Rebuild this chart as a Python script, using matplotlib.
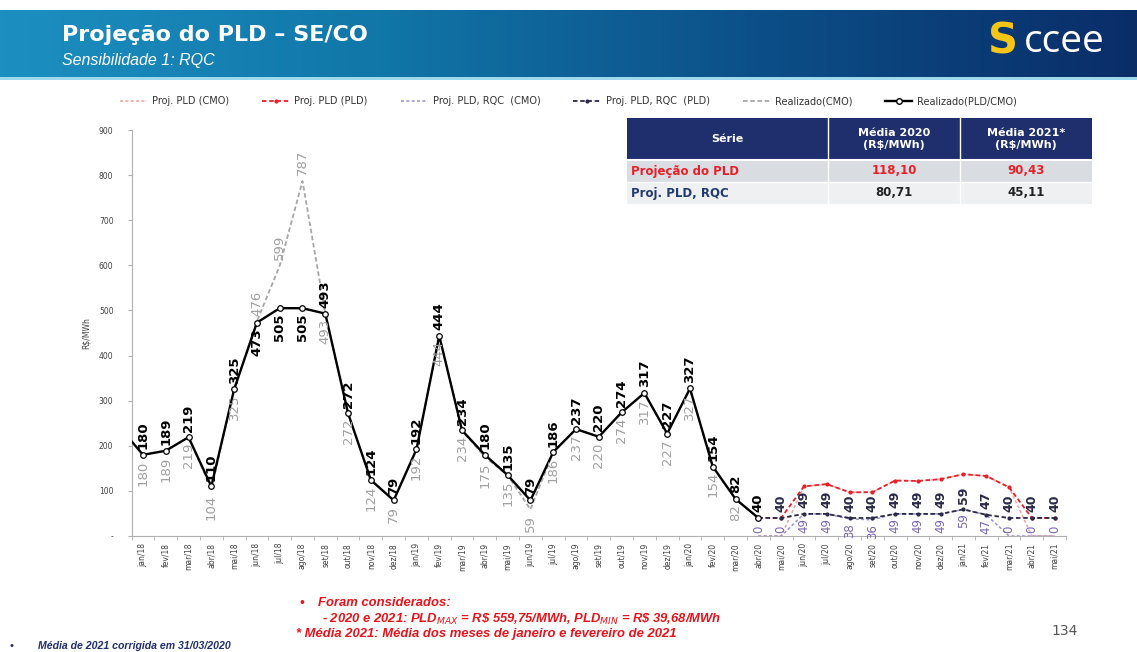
""" Projecao do PLD - SE/CO, sensibilidade 1: RQC
"""
import numpy as np
import matplotlib
matplotlib.use('Agg')
import matplotlib.pyplot as plt
from matplotlib.lines import Line2D
from matplotlib.patches import Rectangle
from matplotlib.colors import LinearSegmentedColormap

# --- data -----------------------------------------------------------------
meses = ['jan', 'fev', 'mar', 'abr', 'mai', 'jun',
         'jul', 'ago', 'set', 'out', 'nov', 'dez']
months = [m + '/' + a for a in ('18', '19', '20', '21') for m in meses][:41]

# realizado, jan/18 .. abr/20
realizado_pld = [180, 189, 219, 110, 325, 473, 505, 505, 493, 272, 124, 79,
                 192, 444, 234, 180, 135, 79, 186, 237, 220, 274, 317, 227,
                 327, 154, 82, 40]
realizado_cmo = [180, 189, 219, 104, 325, 476, 599, 787, 493, 272, 124, 79,
                 192, 444, 234, 175, 135, 59, 186, 237, 220, 274, 317, 227,
                 327, 154, 82, 40]
dez17_pld = 240  # ponto anterior, cortado pela borda do eixo

# projecoes, abr/20 .. mai/21
proj_first = 'abr/20'
proj_pld_cmo = [0, 0, 110, 115, 97, 97, 123, 122, 126, 137, 133, 108, 0, 0]
proj_pld_pld = [40, 40, 110, 115, 97, 97, 123, 122, 126, 137, 133, 108, 40, 40]
rqc_cmo = [0, 0, 49, 49, 38, 36, 49, 49, 49, 59, 47, 0, 0, 0]
rqc_pld = [40, 40, 49, 49, 40, 40, 49, 49, 49, 59, 47, 40, 40, 40]

table_header = ['Série', 'Média 2020\n(R$/MWh)', 'Média 2021*\n(R$/MWh)']
table_rows = [['Projeção do PLD', '118,10', '90,43'],
              ['Proj. PLD, RQC', '80,71', '45,11']]

# --- figure ---------------------------------------------------------------
fig = plt.figure(figsize=(11.37, 6.52), dpi=100)
ax = fig.add_axes([0.1157, 0.1779, 0.8219, 0.6227])

x = np.arange(len(months))
xr = x[:len(realizado_pld)]
p0 = months.index(proj_first)
xp = np.arange(p0, p0 + len(proj_pld_pld))

c_pink = '#f2a0a0'
c_red = '#e8202a'
c_purple = '#9d92c8'
c_dark = '#2a2a48'
c_gray = '#a6a6a6'

ax.plot(xp, proj_pld_cmo, ls=(0, (2, 1.5)), color=c_pink, lw=1.1, zorder=2)
ax.plot(xp, proj_pld_pld, ls=(0, (2.5, 1.5)), color=c_red, lw=1.3,
        marker='o', ms=2, zorder=3)
ax.plot(xp, rqc_cmo, ls=(0, (2, 1.5)), color=c_purple, lw=1.1, zorder=2)
ax.plot(xp, rqc_pld, ls=(0, (2.5, 1.5)), color=c_dark, lw=1.3,
        marker='o', ms=2, zorder=3)
ax.plot(xr, realizado_cmo, ls=(0, (2.5, 1.5)), color=c_gray, lw=1.3, zorder=3)
ax.plot([-1, 0], [dez17_pld, realizado_pld[0]], color='black', lw=1.7, zorder=4)
ax.plot(xr, realizado_pld, color='black', lw=1.7, marker='o', ms=4,
        mfc='white', mec='black', mew=0.9, zorder=4)

# data labels
swap = {5, 6, 7}  # meses onde o CMO fica acima do PLD
for i, (vp, vc) in enumerate(zip(realizado_pld, realizado_cmo)):
    up = i not in swap
    ax.annotate(str(vp), (i, vp), xytext=(0, 4 if up else -4),
                textcoords='offset points', rotation=90, ha='center',
                va='bottom' if up else 'top', fontsize=9.5,
                fontweight='bold', color='black', zorder=6)
    if i == len(realizado_pld) - 1:
        continue
    ax.annotate(str(vc), (i, vc), xytext=(0, -4 if up else 4),
                textcoords='offset points', rotation=90, ha='center',
                va='top' if up else 'bottom', fontsize=9.5,
                color='#a0a0a0', zorder=5)

for xi, v in zip(xp[1:], rqc_pld[1:]):
    ax.annotate(str(v), (xi, v), xytext=(0, 4), textcoords='offset points',
                rotation=90, ha='center', va='bottom', fontsize=9,
                fontweight='bold', color=c_dark, zorder=6)
for xi, v in zip(xp, rqc_cmo):
    above = v == 0
    ax.annotate(str(v), (xi, v), xytext=(0, 2 if above else -3),
                textcoords='offset points', rotation=90, ha='center',
                va='bottom' if above else 'top', fontsize=8.5,
                color='#7766b0', zorder=6, annotation_clip=False)

# axes
ax.set_xlim(-0.5, len(months) - 0.5)
ax.set_ylim(0, 900)
for s in ('top', 'right'):
    ax.spines[s].set_visible(False)
for s in ('left', 'bottom'):
    ax.spines[s].set_color('#b0b0b0')
    ax.spines[s].set_linewidth(0.8)
ax.set_xticks(x)
ax.set_xticklabels(months, rotation=90, fontsize=5.5, color='#404040')
ax.set_xticks(np.arange(-0.5, len(months)), minor=True)
ax.tick_params(axis='x', which='major', length=0, pad=5)
ax.tick_params(axis='x', which='minor', length=3, color='#b0b0b0')
yt = np.arange(0, 901, 100)
ax.set_yticks(yt)
ax.set_yticklabels(['-'] + [str(v) for v in yt[1:]], fontsize=5.5,
                   color='#404040')
ax.tick_params(axis='y', length=3, color='#b0b0b0', pad=10)
ax.set_ylabel('R$/MWh', fontsize=5.5, color='#404040', labelpad=6)

handles = [
    Line2D([], [], ls=(0, (2, 1.5)), color=c_pink, lw=1.1),
    Line2D([], [], ls=(0, (2.5, 1.5)), color=c_red, lw=1.3, marker='o', ms=2),
    Line2D([], [], ls=(0, (2, 1.5)), color=c_purple, lw=1.1),
    Line2D([], [], ls=(0, (2.5, 1.5)), color=c_dark, lw=1.3, marker='o', ms=2),
    Line2D([], [], ls=(0, (2.5, 1.5)), color=c_gray, lw=1.3),
    Line2D([], [], color='black', lw=1.7, marker='o', ms=4, mfc='white'),
]
labels = ['Proj. PLD (CMO)', 'Proj. PLD (PLD)', 'Proj. PLD, RQC  (CMO)',
          'Proj. PLD, RQC  (PLD)', 'Realizado(CMO)', 'Realizado(PLD/CMO)']
fig.legend(handles, labels, loc='center', bbox_to_anchor=(0.50, 0.845),
           ncol=6, fontsize=7, frameon=False, handlelength=2.8,
           columnspacing=3.4, handletextpad=0.5, labelcolor='#333333')

# --- overlay: banner, table, notes (pixel coordinates) ---------------------
ov = fig.add_axes([0, 0, 1, 1], zorder=10)
ov.set_xlim(0, 1137)
ov.set_ylim(652, 0)
ov.axis('off')
ov.patch.set_alpha(0)

cmap = LinearSegmentedColormap.from_list(
    'banner', ['#1c8fc0', '#1176a8', '#0c4f88', '#0a2d68'])
ov.imshow(np.linspace(0, 1, 256)[None, :], cmap=cmap, aspect='auto',
          extent=(0, 1137, 78, 10), zorder=0)
ov.add_patch(Rectangle((0, 77), 1137, 3, color='#9ed8ec', lw=0, zorder=1))
ov.text(62, 35, 'Projeção do PLD – SE/CO', color='white', fontsize=16,
        fontweight='bold', va='center', ha='left')
ov.text(62, 61, 'Sensibilidade 1: RQC', color='white', fontsize=11.5,
        style='italic', va='center', ha='left', family='Liberation Sans')
ov.text(1003, 42, 'S', color='#f5c518', fontsize=30, fontweight='heavy',
        va='center', ha='center')
ov.text(1024, 42, 'ccee', color='white', fontsize=28, va='center',
        ha='left', family='Open Sans')

# table
cols = [627, 828, 960, 1092]
ov.add_patch(Rectangle((cols[0], 118), cols[-1] - cols[0], 42,
                       color='#1f2f6e', lw=0, zorder=2))
ov.add_patch(Rectangle((cols[0], 160), cols[-1] - cols[0], 22,
                       color='#d9dde2', lw=0, zorder=2))
ov.add_patch(Rectangle((cols[0], 182), cols[-1] - cols[0], 22,
                       color='#eef0f2', lw=0, zorder=2))
for cx in cols[1:-1]:
    ov.plot([cx, cx], [118, 204], color='white', lw=1, zorder=3)
ov.plot([cols[0], cols[-1]], [160, 160], color='white', lw=1.5, zorder=3)
ov.plot([cols[0], cols[-1]], [182, 182], color='white', lw=1, zorder=3)
for j, h in enumerate(table_header):
    ov.text((cols[j] + cols[j + 1]) / 2, 139, h, color='white', fontsize=8,
            fontweight='bold', ha='center', va='center', zorder=4,
            linespacing=1.3)
row_colors = ['#e8202a', '#1f3a6e']
val_colors = ['#e8202a', '#222222']
for r, row in enumerate(table_rows):
    yc = 171 + 22 * r
    ov.text(cols[0] + 4, yc, row[0], color=row_colors[r], fontsize=8.5,
            fontweight='bold', ha='left', va='center', zorder=4)
    for j in (1, 2):
        ov.text((cols[j] + cols[j + 1]) / 2, yc, row[j], color=val_colors[r],
                fontsize=8.5, fontweight='bold', ha='center', va='center',
                zorder=4)

# notes
red_note = dict(color='#e8131b', fontsize=9.4, fontweight='bold',
                style='italic', family='Liberation Sans', va='center')
ov.text(299, 603, '•', **red_note)
ov.text(318, 603, 'Foram considerados:', **red_note)
ov.text(322, 619, r'- 2020 e 2021: PLD$_{MAX}$ = R\$ 559,75/MWh, '
        r'PLD$_{MIN}$ = R\$ 39,68/MWh', **red_note)
ov.text(296, 634, '* Média 2021: Média dos meses de janeiro e fevereiro de 2021',
        **red_note)
ov.text(1065, 631, '134', color='#555555', fontsize=10, ha='center',
        va='center')
ov.text(8, 646, '•', color='#1f2f6e', fontsize=7.5, va='center')
ov.text(38, 646, 'Média de 2021 corrigida em 31/03/2020', color='#1f2f6e',
        fontsize=7.6, fontweight='bold', style='italic',
        family='Liberation Sans', va='center')

plt.savefig('out.png', dpi=100)
